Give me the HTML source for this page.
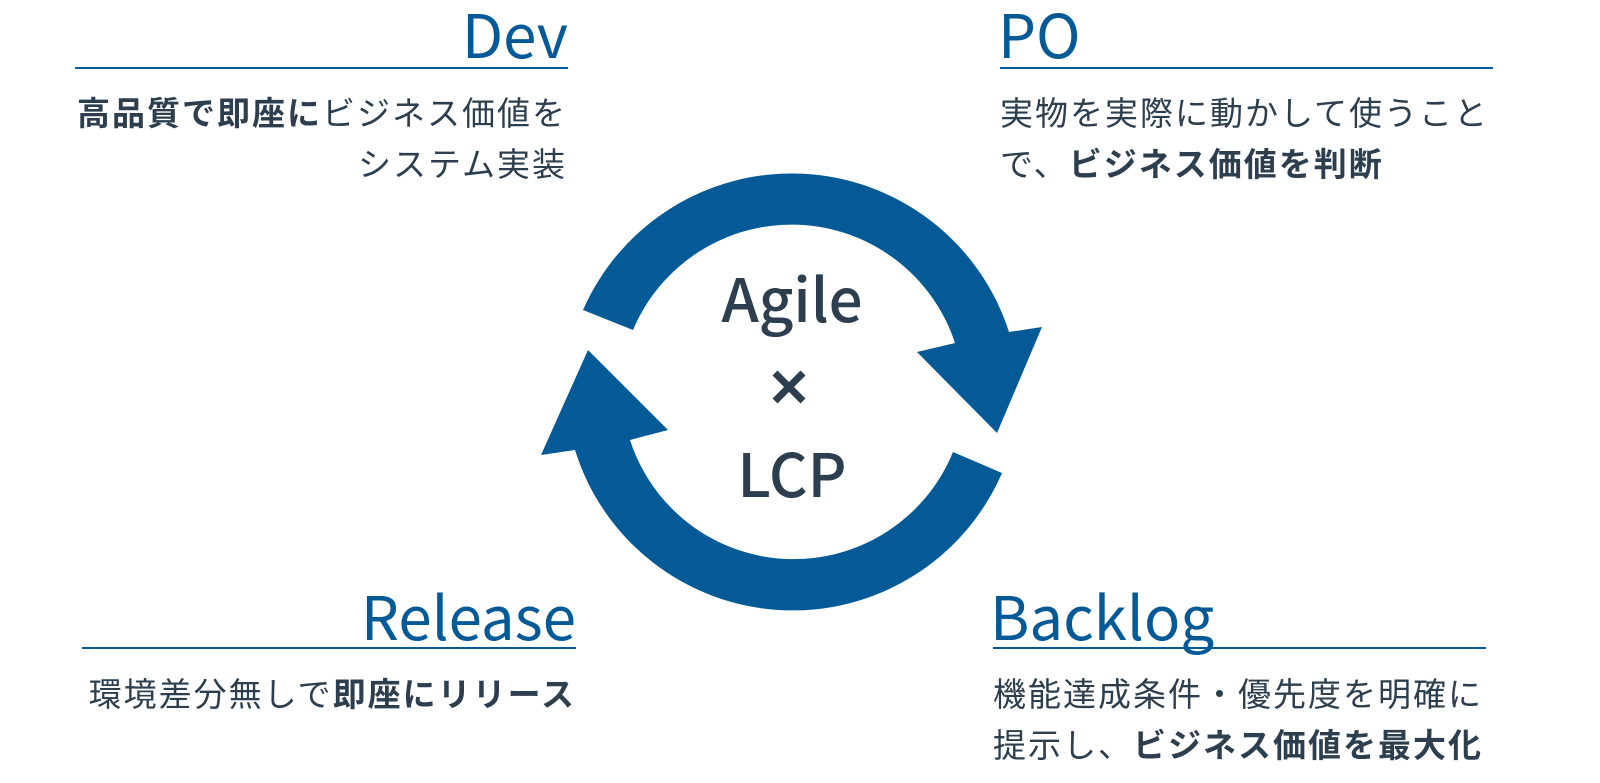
<!DOCTYPE html>
<html><head><meta charset="utf-8"><style>
html,body{margin:0;padding:0;background:#fff;}
body{width:1600px;height:783px;position:relative;overflow:hidden;font-family:"Liberation Sans","Noto Sans CJK JP",sans-serif;}
.t{position:absolute;font-family:"Noto Sans CJK JP","Liberation Sans",sans-serif;color:#045a96;font-size:60px;line-height:70px;font-weight:400;white-space:nowrap;}
.ln{position:absolute;height:2px;background:#045a96;}
.p{position:absolute;font-family:"Noto Sans CJK JP",sans-serif;color:#2d3e4e;font-size:33px;line-height:51px;letter-spacing:2px;white-space:nowrap;}
.p b{font-weight:700;}
.r{text-align:right;}
.c{position:absolute;font-family:"Noto Sans CJK JP","Liberation Sans",sans-serif;color:#2d3e4e;text-align:center;width:300px;left:642px;font-weight:500;}
</style></head><body>
<svg width="1600" height="783" style="position:absolute;left:0;top:0">
<path d="M583,310 A228,228 0 0 1 1009,332 L1042,327 L997,433 L917,352 L955,343 A172,172 0 0 0 633,330 Z" fill="#045a96"/>
<path d="M1002,473 A228,228 0 0 1 575,450 L541,455 L588,350 L668,430 L630,440 A172,172 0 0 0 953,452 Z" fill="#045a96"/>
<g stroke="#2d3e4e" stroke-width="7"><line x1="775" y1="373" x2="803" y2="401"/><line x1="803" y1="373" x2="775" y2="401"/></g>
</svg>
<div class="c" style="top:262px;font-size:60px;line-height:70px;">Agile</div>
<div class="c" style="top:437px;font-size:60px;line-height:70px;">LCP</div>

<div class="t r" style="right:1032px;top:-2px;">Dev</div>
<div class="ln" style="left:75px;width:493px;top:67px;"></div>
<div class="p r" style="right:1033px;top:86px;"><b>高品質で即座に</b>ビジネス価値を<br>システム実装</div>

<div class="t" style="left:998px;top:-2px;">PO</div>
<div class="ln" style="left:1000px;width:493px;top:67px;"></div>
<div class="p" style="left:1000px;top:86px;">実物を実際に動かして使うこと<br>で、<b>ビジネス価値を判断</b></div>

<div class="t r" style="right:1024px;top:580px;">Release</div>
<div class="ln" style="left:82px;width:494px;top:647px;"></div>
<div class="p r" style="right:1024px;top:667px;">環境差分無しで<b>即座にリリース</b></div>

<div class="t" style="left:990px;top:580px;">Backlog</div>
<div class="ln" style="left:993px;width:493px;top:647px;"></div>
<div class="p" style="left:993px;top:667px;">機能達成条件・優先度を明確に<br>提示し、<b>ビジネス価値を最大化</b></div>
</body></html>
